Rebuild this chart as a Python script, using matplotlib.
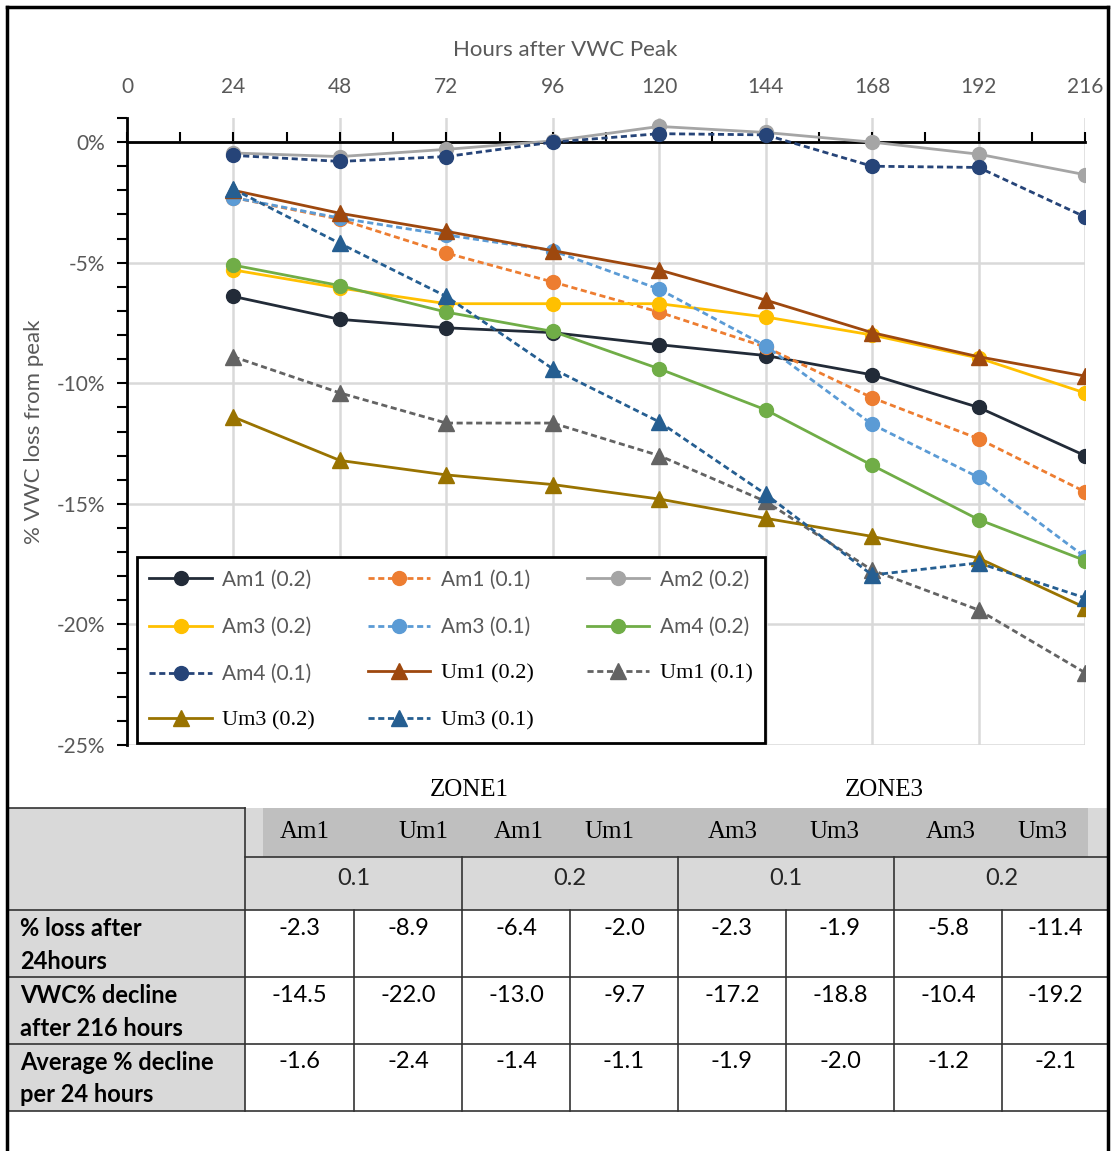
import numpy as np
import matplotlib.pyplot as plt
from matplotlib.patches import Rectangle
from matplotlib.ticker import FuncFormatter, MultipleLocator

# ---- data ----
hours = [24, 48, 72, 96, 120, 144, 168, 192, 216]

am1_02 = [-6.4, -7.35, -7.7, -7.9, -8.4, -8.85, -9.65, -11.0, -13.0]
am1_01 = [-2.3, -3.2, -4.6, -5.8, -7.05, -8.5, -10.6, -12.3, -14.5]
am2_02 = [-0.45, -0.6, -0.3, 0.05, 0.65, 0.4, 0.0, -0.5, -1.35]
am3_02 = [-5.3, -6.05, -6.7, -6.7, -6.7, -7.25, -8.0, -8.95, -10.4]
am3_01 = [-2.3, -3.15, -3.85, -4.5, -6.1, -8.45, -11.7, -13.9, -17.2]
am4_02 = [-5.1, -5.95, -7.05, -7.85, -9.4, -11.1, -13.4, -15.65, -17.35]
am4_01 = [-0.55, -0.8, -0.6, 0.0, 0.35, 0.3, -1.0, -1.05, -3.1]
um1_02 = [-2.0, -2.95, -3.7, -4.5, -5.3, -6.55, -7.9, -8.9, -9.7]
um1_01 = [-8.9, -10.4, -11.65, -11.65, -13.0, -14.9, -17.75, -19.4, -22.0]
um3_02 = [-11.4, -13.2, -13.8, -14.2, -14.8, -15.6, -16.35, -17.25, -19.3]
um3_01 = [-1.95, -4.2, -6.4, -9.4, -11.6, -14.6, -17.95, -17.45, -18.9]

zones = ["ZONE1", "ZONE3"]
col_heads = ["Am1", "Um1", "Am1", "Um1", "Am3", "Um3", "Am3", "Um3"]
levels = ["0.1", "0.2", "0.1", "0.2"]
row_labels = ["% loss after\n24hours", "VWC% decline\nafter 216 hours",
              "Average % decline\nper 24 hours"]
loss_24 = [-2.3, -8.9, -6.4, -2.0, -2.3, -1.9, -5.8, -11.4]
decline_216 = [-14.5, -22.0, -13.0, -9.7, -17.2, -18.8, -10.4, -19.2]
avg_24 = [-1.6, -2.4, -1.4, -1.1, -1.9, -2.0, -1.2, -2.1]

SANS = "Lato"
SERIF = "Liberation Serif"
GREY_TXT = "#595959"

# label, values, colour, dashed, marker
series = [
    ("Am1 (0.2)", am1_02, "#222b38", False, "o"),
    ("Am1 (0.1)", am1_01, "#ED7D31", True, "o"),
    ("Am2 (0.2)", am2_02, "#A5A5A5", False, "o"),
    ("Am3 (0.2)", am3_02, "#FFC000", False, "o"),
    ("Am3 (0.1)", am3_01, "#5B9BD5", True, "o"),
    ("Am4 (0.2)", am4_02, "#70AD47", False, "o"),
    ("Am4 (0.1)", am4_01, "#264478", True, "o"),
    ("Um1 (0.2)", um1_02, "#9E480E", False, "^"),
    ("Um1 (0.1)", um1_01, "#636363", True, "^"),
    ("Um3 (0.2)", um3_02, "#997300", False, "^"),
    ("Um3 (0.1)", um3_01, "#255E91", True, "^"),
]

fig = plt.figure(figsize=(11.12, 11.51), dpi=100)
ax = fig.add_axes([127 / 1112, 406 / 1151, 958 / 1112, 627 / 1151])

handles = {}
for label, vals, col, dashed, mk in series:
    ls = (0, (2.2, 1.3)) if dashed else "-"
    ms = 10 if mk == "o" else 11.5
    h, = ax.plot(hours, vals, color=col, ls=ls, lw=2.0, marker=mk, ms=ms,
                 label=label, zorder=3)
    handles[label] = h

ax.set_xlim(0, 216)
ax.set_ylim(-25, 1)

# x axis: ticks sit on the 0% line, labels at the top
ax.xaxis.tick_top()
ax.spines["top"].set_position(("data", 0))
ax.spines["top"].set_linewidth(2)
ax.spines["bottom"].set_visible(False)
ax.spines["right"].set_visible(False)
ax.spines["left"].set_linewidth(2)
ax.set_xticks(range(0, 217, 24))
ax.xaxis.set_minor_locator(MultipleLocator(12))
ax.tick_params(axis="x", which="both", direction="out", length=7, width=1.5,
               labeltop=False, top=True, bottom=False)

sec = ax.secondary_xaxis("top")
sec.set_xticks(range(0, 217, 24))
sec.tick_params(length=0, pad=15, labelsize=15, labelcolor=GREY_TXT)
for t in sec.get_xticklabels():
    t.set_fontfamily(SANS)
sec.spines["top"].set_visible(False)
ax.text((565 - 127) / 958, (1151 - 50 - 406) / 627, "Hours after VWC Peak",
        transform=ax.transAxes, fontsize=16, color=GREY_TXT, family=SANS,
        ha="center", va="center")

ax.set_yticks(range(-25, 1, 5))
ax.yaxis.set_minor_locator(MultipleLocator(1))
ax.yaxis.set_major_formatter(FuncFormatter(lambda v, p: f"{v:.0f}%"))
ax.tick_params(axis="y", which="both", direction="out", length=7, width=1.5,
               labelsize=15, labelcolor=GREY_TXT, pad=9)
for t in ax.get_yticklabels():
    t.set_fontfamily(SANS)
ax.set_ylabel("% VWC loss from peak", fontsize=16, color=GREY_TXT, family=SANS)
ax.yaxis.set_label_coords((44 - 127) / 958, 0.5)

ax.grid(True, which="major", color="#d9d9d9", lw=1.8, zorder=0)
ax.set_axisbelow(True)

# legend: filled row by row in the reference, matplotlib fills by column
order = ["Am1 (0.2)", "Am3 (0.2)", "Am4 (0.1)", "Um3 (0.2)",
         "Am1 (0.1)", "Am3 (0.1)", "Um1 (0.2)", "Um3 (0.1)",
         "Am2 (0.2)", "Am4 (0.2)", "Um1 (0.1)"]
leg = ax.legend([handles[k] for k in order], order, ncol=3,
                loc="lower left", bbox_to_anchor=(0.0104, 0.003, 0.6555, 0.2966),
                mode="expand", borderaxespad=0, fancybox=False, framealpha=1,
                edgecolor="black", fontsize=15, handlelength=3.0,
                labelspacing=1.3, borderpad=0.6, columnspacing=1.2,
                handletextpad=0.5)
leg.get_frame().set_linewidth(2)
leg.set_zorder(5)
for txt in leg.get_texts():
    if txt.get_text().startswith("Um"):
        txt.set_family(SERIF)
        txt.set_color("black")
        txt.set_fontsize(16)
    else:
        txt.set_family(SANS)
        txt.set_color(GREY_TXT)

# ---- table below the chart, drawn in pixel coordinates ----
ov = fig.add_axes([0, 0, 1, 1])
ov.set_xlim(0, 1112)
ov.set_ylim(1151, 0)
ov.axis("off")

col_edges = [245, 354, 462, 570, 678, 786, 894, 1002, 1108]
col_mid = [(a + b) / 2 for a, b in zip(col_edges[:-1], col_edges[1:])]
head_x = [305, 423, 519, 609, 733, 834, 951, 1042]
row_top = [910, 977, 1044]

for i, z in enumerate(zones):
    ov.text([469, 884][i], 790, z, family=SERIF, fontsize=18, ha="center",
            va="center", color="black")

ov.add_patch(Rectangle((8, 808), 237, 102, color="#d9d9d9", lw=0))
ov.add_patch(Rectangle((245, 808), 863, 102, color="#d9d9d9", lw=0))
ov.add_patch(Rectangle((263, 808), 825, 49, color="#bfbfbf", lw=0))
for y in row_top:
    ov.add_patch(Rectangle((8, y), 237, 67, color="#d9d9d9", lw=0))

for x, h in zip(head_x, col_heads):
    ov.text(x, 832, h, family=SERIF, fontsize=18, ha="center", va="center")
for i, lv in enumerate(levels):
    ov.text(col_mid[2 * i] + 54, 878, lv, family=SANS, fontsize=17,
            ha="center", va="center", color="#262626")

for r, (lab, vals) in enumerate(zip(row_labels, [loss_24, decline_216, avg_24])):
    for k, line in enumerate(lab.split("\n")):
        ov.text(20, row_top[r] + 18 + k * 33, line, family=SANS, fontsize=17,
                fontweight="bold", ha="left", va="center")
    for c, v in enumerate(vals):
        ov.text(col_mid[c], row_top[r] + 18, f"{v:.1f}", family=SANS,
                fontsize=17, ha="center", va="center")

lc = "#333333"
ov.plot([8, 245], [808, 808], color=lc, lw=1.2)
ov.plot([245, 1108], [857, 857], color=lc, lw=1.2)
for y in row_top + [1111]:
    ov.plot([8, 1108], [y, y], color=lc, lw=1.2)
ov.plot([245, 245], [808, 1111], color=lc, lw=1.2)
for x in col_edges[1:-1]:
    ov.plot([x, x], [910, 1111], color=lc, lw=1.2)
for x in [462, 678, 894]:
    ov.plot([x, x], [857, 910], color=lc, lw=1.2)

# outer frame
ov.plot([7, 7], [7, 1151], color="black", lw=2.5)
ov.plot([1108, 1108], [7, 1151], color="black", lw=2.5)
ov.plot([7, 1108], [7, 7], color="black", lw=2.5)

fig.savefig("out.png", dpi=100)
